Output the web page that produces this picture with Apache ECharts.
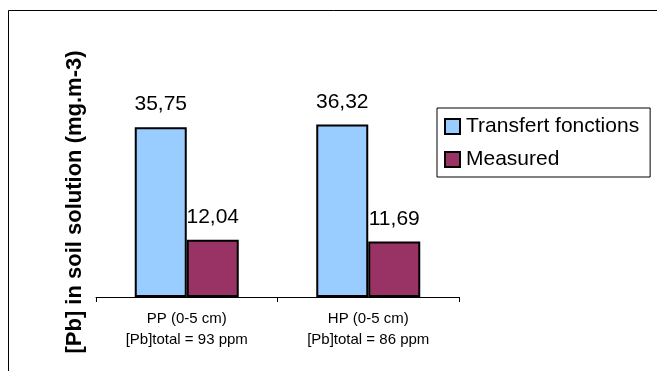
<!DOCTYPE html>
<html>
<head>
<meta charset="utf-8">
<script src="https://cdn.jsdelivr.net/npm/echarts@6/dist/echarts.min.js"></script>
<style>
  html, body { margin: 0; padding: 0; background: #fff; }
  #chart { width: 657px; height: 371px; }
</style>
</head>
<body>
<div id="chart"></div>
<script>
// Sampling sites (two-line axis labels)
const categories = ['PP (0-5 cm)\n[Pb]total = 93 ppm', 'HP (0-5 cm)\n[Pb]total = 86 ppm'];
const seriesNames = ['Transfert fonctions', 'Measured'];
const transfertValues = [35.75, 36.32];
const measuredValues = [12.04, 11.69];
const yAxisTitle = '[Pb] in soil solution (mg.m-3)';

const FONT = 'Arial, "Liberation Sans", sans-serif';
const fmt = p => p.value.toFixed(2).replace('.', ',');

const chart = echarts.init(document.getElementById('chart'), null, { renderer: 'canvas' });

const barLabel = {
  show: true,
  position: 'top',
  distance: 12,
  formatter: fmt,
  fontFamily: FONT,
  fontSize: 21,
  color: '#000'
};

chart.setOption({
  animation: false,
  backgroundColor: '#fff',
  graphic: [{
    type: 'rect',
    shape: { x: 8.5, y: 10.5, width: 700, height: 400 },
    style: { fill: 'none', stroke: '#000', lineWidth: 1 },
    silent: true
  }],
  grid: { left: 96, top: 107, width: 363, height: 190 },
  legend: {
    left: 437,
    top: 108,
    orient: 'vertical',
    padding: [8, 11, 7, 7],
    itemGap: 12,
    itemWidth: 15,
    itemHeight: 15,
    borderColor: '#000',
    borderWidth: 1,
    icon: 'rect',
    itemStyle: { borderColor: '#000', borderWidth: 2 },
    textStyle: { fontFamily: FONT, fontSize: 21, color: '#000', padding: [0, 0, 0, 1] },
    data: seriesNames
  },
  xAxis: {
    type: 'category',
    data: categories,
    axisLine: { show: true, lineStyle: { color: '#000', width: 1 } },
    axisTick: { show: true, inside: false, length: 5, lineStyle: { color: '#000' } },
    axisLabel: {
      fontFamily: FONT,
      fontSize: 15,
      lineHeight: 21,
      color: '#000',
      margin: 11,
      interval: 0
    }
  },
  yAxis: {
    type: 'value',
    min: 0,
    max: 40,
    axisLine: { show: false },
    axisTick: { show: false },
    axisLabel: { show: false },
    splitLine: { show: false },
    name: yAxisTitle,
    nameLocation: 'middle',
    nameRotate: 90,
    nameGap: 10,
    nameTextStyle: { fontFamily: FONT, fontSize: 22, fontWeight: 'bold', color: '#000' }
  },
  series: [
    {
      name: seriesNames[0],
      type: 'bar',
      data: transfertValues,
      barWidth: 52,
      barGap: '0%',
      itemStyle: { color: '#99CCFF', borderColor: '#000', borderWidth: 2 },
      label: barLabel
    },
    {
      name: seriesNames[1],
      type: 'bar',
      data: measuredValues,
      barWidth: 52,
      barGap: '0%',
      itemStyle: { color: '#993366', borderColor: '#000', borderWidth: 2 },
      label: barLabel
    }
  ]
});
</script>
</body>
</html>
